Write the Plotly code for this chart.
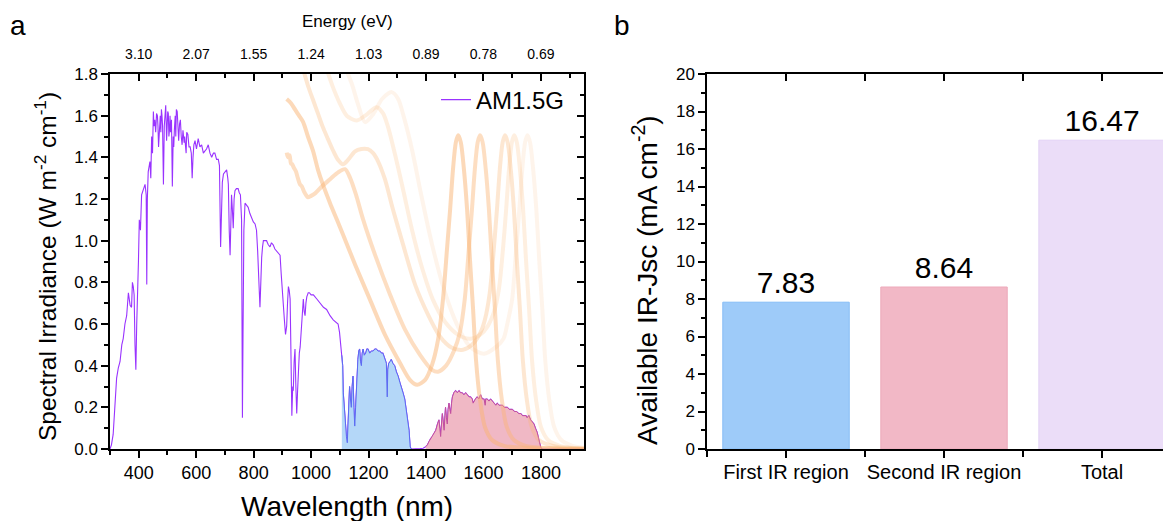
import plotly.graph_objects as go

W, H = 1171, 521
OX, OY = 8, 8          # page offset of the plot div inside the browser window
FONT = "Liberation Sans, Arial, sans-serif"


def fx(px):
    return (px - OX) / W


def fy(py):
    return 1 - (py - OY) / H


# ---------------- Panel a data ----------------
am_wl = [300, 305, 311, 317, 323, 329, 335, 341, 346, 352, 358, 364, 370, 375, 378, 381, 384, 387, 390, 393,
         396, 399, 402, 406, 410, 416, 422, 426, 428, 430, 433,
         439, 442, 445, 448, 451, 453, 456, 459, 462, 465, 467, 469, 471, 473, 475, 477, 479, 481, 483, 486,
         489, 492, 494, 497, 499, 501, 503, 505, 507, 509, 511, 514, 517, 520, 522, 524, 527, 529, 531, 534,
         536, 539, 542, 545, 548, 551, 554, 558, 560, 563, 565, 567, 571,
         575, 579, 583, 586, 589, 592, 596, 601, 607, 613, 619, 625, 630, 636, 642, 648, 654,
         660, 665, 671, 677, 681, 685, 688, 691, 695, 700, 706, 710, 712, 715, 718, 721, 723, 726, 729, 732,
         735, 740, 746, 750, 754, 758, 761, 763, 766, 770, 775, 781, 787, 793, 799, 805, 810, 814, 816, 819,
         822, 825, 828, 831, 834, 840, 845, 851, 857, 862, 868, 874, 880, 886, 892, 896, 900, 903, 907, 911,
         915, 918, 921, 924, 927, 930, 933, 936, 938, 941, 944, 947, 950, 953, 956, 959, 962, 965, 967, 970,
         973, 976, 979, 982, 985, 990, 994, 1000, 1008, 1020, 1031, 1043, 1054, 1066, 1077, 1085, 1094, 1099, 1103, 1107,
         1110, 1112, 1115, 1117, 1120, 1123, 1126, 1128, 1131, 1134, 1137, 1140, 1143, 1146, 1149, 1152, 1155, 1157, 1160, 1163,
         1166, 1169, 1172, 1175, 1178, 1181, 1185, 1190, 1194, 1198, 1204, 1210, 1216, 1222, 1227, 1233, 1239, 1245, 1250, 1256,
         1260, 1262, 1265, 1267, 1270, 1275, 1279, 1285, 1291, 1297, 1303, 1309, 1314, 1320, 1326, 1330, 1334, 1338, 1341, 1345,
         1349, 1360, 1370, 1380, 1390, 1399, 1405, 1410, 1416, 1422, 1428, 1434, 1440, 1445, 1448, 1451, 1454, 1457, 1460, 1463,
         1466, 1468, 1471, 1474, 1477, 1480, 1483, 1486, 1489, 1492, 1497, 1503, 1509, 1515, 1520, 1526, 1532, 1538, 1544, 1550,
         1555, 1561, 1564, 1567, 1572, 1578, 1584, 1590, 1596, 1602, 1606, 1608, 1613, 1619, 1625, 1631, 1637, 1643, 1648, 1654,
         1660, 1666, 1672, 1677, 1683, 1690, 1700, 1708, 1715, 1723, 1730, 1736, 1741, 1748, 1752, 1758, 1764, 1770, 1776, 1781,
         1787, 1792, 1797, 1800, 1805, 1850, 1900, 1950]
am_irr = [0.0, 0.02, 0.07, 0.20, 0.34, 0.39, 0.42, 0.50, 0.53, 0.60, 0.64, 0.75, 0.69, 0.68, 0.80, 0.78, 0.74, 0.50, 0.38, 0.60,
          0.86, 0.90, 1.10, 1.05, 1.22, 1.25, 1.27, 1.22, 0.79, 1.20, 1.33,
          1.38, 1.30, 1.50, 1.42, 1.62, 1.55, 1.58, 1.52, 1.61, 1.60, 1.55, 1.45, 1.50, 1.58, 1.60, 1.52, 1.63, 1.60, 1.55, 1.27,
          1.55, 1.60, 1.65, 1.48, 1.57, 1.62, 1.61, 1.50, 1.53, 1.60, 1.52, 1.58, 1.26, 1.50, 1.45, 1.53, 1.60, 1.50, 1.63, 1.62,
          1.55, 1.48, 1.56, 1.58, 1.50, 1.46, 1.53, 1.47, 1.50, 1.46, 1.42, 1.52, 1.51,
          1.45, 1.45, 1.42, 1.30, 1.40, 1.46, 1.48, 1.44, 1.49, 1.45, 1.46, 1.42, 1.43, 1.44, 1.46, 1.42, 1.40,
          1.42, 1.42, 1.39, 1.39, 1.36, 0.97, 1.10, 1.28, 1.32, 1.33, 1.34, 1.30, 1.27, 1.05, 0.93, 1.10, 1.22, 1.15, 1.06, 1.20,
          1.24, 1.25, 1.25, 1.23, 1.22, 1.10, 0.15, 0.55, 1.05, 1.18, 1.17, 1.16, 1.13, 1.11, 1.09, 1.08, 1.05, 0.95, 0.90, 0.78,
          0.68, 0.85, 0.92, 0.97, 1.00, 1.00, 1.00, 0.98, 0.97, 0.99, 0.98, 0.96, 0.95, 0.94, 0.93, 0.84, 0.74, 0.72, 0.62, 0.55,
          0.59, 0.70, 0.78, 0.76, 0.72, 0.45, 0.16, 0.30, 0.28, 0.42, 0.48, 0.30, 0.17, 0.28, 0.40, 0.46, 0.49, 0.55, 0.57, 0.66,
          0.72, 0.66, 0.64, 0.70, 0.73, 0.75, 0.75, 0.74, 0.74, 0.72, 0.70, 0.68, 0.67, 0.64, 0.62, 0.61, 0.60, 0.56, 0.51, 0.45,
          0.40, 0.27, 0.20, 0.16, 0.09, 0.06, 0.03, 0.12, 0.20, 0.30, 0.24, 0.20, 0.30, 0.35, 0.20, 0.11, 0.20, 0.28, 0.38, 0.43,
          0.47, 0.48, 0.42, 0.40, 0.46, 0.48, 0.45, 0.46, 0.48, 0.48, 0.46, 0.47, 0.47, 0.48, 0.48, 0.47, 0.47, 0.46, 0.46, 0.44,
          0.42, 0.41, 0.25, 0.38, 0.41, 0.42, 0.43, 0.41, 0.40, 0.37, 0.35, 0.32, 0.30, 0.27, 0.24, 0.19, 0.16, 0.12, 0.09, 0.01,
          0.0, 0.0, 0.0, 0.002, 0.004, 0.011, 0.02, 0.035, 0.05, 0.06, 0.075, 0.09, 0.12, 0.14, 0.10, 0.06, 0.12, 0.17, 0.13, 0.09,
          0.16, 0.20, 0.15, 0.12, 0.19, 0.22, 0.19, 0.17, 0.22, 0.25, 0.27, 0.28, 0.27, 0.28, 0.27, 0.27, 0.26, 0.27, 0.26, 0.25,
          0.25, 0.24, 0.22, 0.23, 0.24, 0.25, 0.24, 0.26, 0.24, 0.24, 0.21, 0.24, 0.24, 0.23, 0.24, 0.23, 0.22, 0.21, 0.22, 0.21,
          0.21, 0.21, 0.20, 0.20, 0.20, 0.19, 0.19, 0.18, 0.18, 0.17, 0.17, 0.16, 0.16, 0.16, 0.15, 0.16, 0.14, 0.13, 0.12, 0.10,
          0.08, 0.05, 0.02, 0.005, 0.0, 0.0, 0.0, 0.0]

region1 = (1107, 1349)   # first IR region (nm)
region2 = (1399, 1805)   # second IR region (nm)

# Orange absorption / peak curves
curve1_wl = [915, 930, 944, 958, 972, 989, 1007, 1024, 1041, 1066, 1090, 1111, 1153, 1205, 1257, 1309, 1344, 1369,
             1397, 1421, 1442, 1459, 1473, 1484, 1494, 1504, 1512, 1521, 1532, 1543, 1553, 1564, 1574, 1588, 1605,
             1630, 1675, 1762, 1950]
curve1_val = [1.68, 1.66, 1.63, 1.60, 1.57, 1.50, 1.43, 1.34, 1.27, 1.18, 1.10, 1.03, 0.886, 0.717, 0.549, 0.414,
              0.332, 0.308, 0.332, 0.404, 0.525, 0.717, 0.958, 1.15, 1.343, 1.473, 1.506, 1.473, 1.343, 1.15, 0.91,
              0.669, 0.428, 0.236, 0.106, 0.043, 0.014, 0.005, 0.0]
curve2_wl = [915, 920, 925, 930, 934, 940, 947, 954, 961, 968, 975, 982, 989, 1000, 1014, 1038, 1066, 1094, 1118,
             1135, 1156, 1181, 1222, 1275, 1327, 1379, 1421, 1442, 1470, 1497, 1518, 1535, 1549, 1560, 1570, 1580,
             1588, 1597, 1608, 1619, 1629, 1640, 1650, 1664, 1681, 1706, 1750, 1850, 1950]
curve2_val = [1.423, 1.40, 1.41, 1.37, 1.367, 1.35, 1.333, 1.30, 1.271, 1.26, 1.237, 1.22, 1.208, 1.215, 1.227,
              1.261, 1.295, 1.328, 1.343, 1.304, 1.222, 1.102, 0.934, 0.741, 0.573, 0.452, 0.380, 0.371, 0.40,
              0.47, 0.56, 0.72, 0.958, 1.15, 1.343, 1.473, 1.506, 1.473, 1.343, 1.15, 0.91, 0.669, 0.428, 0.236,
              0.106, 0.043, 0.014, 0.004, 0.0]
curve3_wl = [972, 990, 1007, 1024, 1041, 1058, 1076, 1093, 1111, 1130, 1153, 1175, 1198, 1216, 1233, 1257, 1285,
             1320, 1362, 1407, 1449, 1490, 1529, 1560, 1590, 1605, 1622, 1636, 1647, 1657, 1667, 1675, 1684, 1695,
             1706, 1716, 1727, 1737, 1751, 1768, 1793, 1850, 1950]
curve3_val = [1.824, 1.74, 1.675, 1.61, 1.545, 1.49, 1.434, 1.39, 1.367, 1.39, 1.429, 1.44, 1.439, 1.42, 1.381,
              1.295, 1.15, 0.982, 0.789, 0.645, 0.539, 0.486, 0.476, 0.50, 0.56, 0.62, 0.75, 0.96, 1.15, 1.343,
              1.473, 1.506, 1.473, 1.343, 1.15, 0.91, 0.669, 0.428, 0.236, 0.106, 0.043, 0.012, 0.003]
curve4_wl = [1052, 1076, 1101, 1125, 1159, 1191, 1228, 1250, 1268, 1292, 1320, 1351, 1386, 1424, 1466, 1511, 1553,
             1590, 1615, 1637, 1654, 1668, 1679, 1689, 1699, 1707, 1716, 1727, 1738, 1748, 1759, 1769, 1783, 1800,
             1825, 1866, 1908, 1950]
curve4_val = [1.834, 1.737, 1.656, 1.598, 1.577, 1.603, 1.641, 1.612, 1.545, 1.415, 1.247, 1.054, 0.871, 0.717,
              0.611, 0.549, 0.529, 0.55, 0.59, 0.66, 0.77, 0.96, 1.15, 1.343, 1.473, 1.506, 1.473, 1.343, 1.15,
              0.91, 0.669, 0.428, 0.236, 0.106, 0.043, 0.015, 0.006, 0.003]
curve5_wl = [1118, 1142, 1163, 1188, 1216, 1247, 1281, 1303, 1323, 1351, 1383, 1421, 1463, 1508, 1553, 1602, 1644,
             1670, 1683, 1700, 1714, 1725, 1735, 1745, 1753, 1762, 1773, 1784, 1794, 1805, 1815, 1829, 1846, 1871,
             1910, 1950]
curve5_val = [1.834, 1.752, 1.656, 1.569, 1.607, 1.68, 1.713, 1.68, 1.593, 1.439, 1.222, 0.982, 0.765, 0.597, 0.491,
              0.457, 0.49, 0.53, 0.60, 0.72, 0.96, 1.15, 1.343, 1.473, 1.506, 1.473, 1.343, 1.15, 0.91, 0.669, 0.428,
              0.236, 0.106, 0.043, 0.015, 0.006]
curve_alpha = [0.5, 0.44, 0.32, 0.22, 0.14]

wl_ticks = [400, 600, 800, 1000, 1200, 1400, 1600, 1800]
energy_labels = ["3.10", "2.07", "1.55", "1.24", "1.03", "0.89", "0.78", "0.69"]
wl_minor = [300, 500, 700, 900, 1100, 1300, 1500, 1700, 1900]

# ---------------- Panel b data ----------------
bar_categories = ["First IR region", "Second IR region", "Total"]
bar_values = [7.83, 8.64, 16.47]
bar_colors = ["#9ECBF9", "#F2B8C6", "#EBDDF8"]
bar_edge = ["#86BDF6", "#EDA9BA", "#E3D2F5"]

# ---------------- Figure ----------------
fig = go.Figure()

fig.add_trace(go.Scatter(x=am_wl, y=am_irr, mode="lines", name="AM1.5G",
                         line=dict(color="#9933FF", width=1.1), xaxis="x", yaxis="y"))

r1 = [(w, v) for w, v in zip(am_wl, am_irr) if region1[0] <= w <= region1[1]]
r2 = [(w, v) for w, v in zip(am_wl, am_irr) if region2[0] <= w <= region2[1]]
fig.add_trace(go.Scatter(x=[p[0] for p in r1], y=[p[1] for p in r1], mode="lines", fill="tozeroy",
                         fillcolor="#B4D7F8", line=dict(color="#5B6CF2", width=1), showlegend=False,
                         xaxis="x", yaxis="y"))
fig.add_trace(go.Scatter(x=[p[0] for p in r2], y=[p[1] for p in r2], mode="lines", fill="tozeroy",
                         fillcolor="#F0B8C5", line=dict(color="#C4509C", width=1), showlegend=False,
                         xaxis="x", yaxis="y"))

curves = [(curve1_wl, curve1_val), (curve2_wl, curve2_val), (curve3_wl, curve3_val),
          (curve4_wl, curve4_val), (curve5_wl, curve5_val)]
for (cw, cv), a in zip(curves, curve_alpha):
    fig.add_trace(go.Scatter(x=cw, y=cv, mode="lines", line=dict(color=f"rgba(250,180,115,{a})", width=4,
                                                                 shape="spline", smoothing=0.8),
                             showlegend=False, xaxis="x", yaxis="y"))

# empty traces so the overlay axes are drawn
fig.add_trace(go.Scatter(x=[], y=[], xaxis="x2", yaxis="y", showlegend=False, hoverinfo="skip"))
fig.add_trace(go.Scatter(x=[], y=[], xaxis="x", yaxis="y3", showlegend=False, hoverinfo="skip"))

fig.add_trace(go.Bar(x=bar_categories, y=bar_values, width=0.8,
                     marker=dict(color=bar_colors, line=dict(color=bar_edge, width=1)),
                     text=[f"{v:.2f}" for v in bar_values], textposition="outside",
                     textfont=dict(size=30, color="black", family=FONT), cliponaxis=False,
                     showlegend=False, xaxis="x3", yaxis="y2"))
fig.add_trace(go.Scatter(x=[], y=[], xaxis="x4", yaxis="y2", showlegend=False, hoverinfo="skip"))
fig.add_trace(go.Scatter(x=[], y=[], xaxis="x5", yaxis="y2", showlegend=False, hoverinfo="skip"))

ax = dict(showline=True, linecolor="black", linewidth=1.5, tickcolor="black", tickwidth=1.5,
          showgrid=False, zeroline=False, ticklen=7, automargin=False)
ydom = [fy(449), fy(74)]
dom_a = [fx(110), fx(584)]
dom_b = [fx(707), 1.0]
brange = [-0.5, 2.487]

fig.update_layout(
    width=W, height=H, autosize=False,
    margin=dict(l=0, r=0, t=0, b=0, autoexpand=False),
    paper_bgcolor="white", plot_bgcolor="white",
    font=dict(family=FONT, color="black"),
    xaxis=dict(ax, domain=dom_a, range=[300, 1950], anchor="y", tickmode="linear", tick0=400, dtick=200,
               ticks="outside", tickfont=dict(size=18),
               minor=dict(ticks="outside", ticklen=4, tickmode="array", tickvals=wl_minor, tickcolor="black")),
    xaxis2=dict(ax, overlaying="x", side="top", anchor="y", range=[300, 1950], tickmode="array",
                tickvals=wl_ticks, ticktext=energy_labels, ticks="inside", tickfont=dict(size=14),
                ticklabelstandoff=8,
                minor=dict(ticks="inside", ticklen=4, tickmode="array", tickvals=wl_minor, tickcolor="black")),
    yaxis=dict(ax, domain=ydom, range=[0, 1.8], anchor="x", tickmode="linear", tick0=0, dtick=0.2,
               tickformat=".1f", ticks="outside", tickfont=dict(size=17),
               minor=dict(ticks="outside", ticklen=4, dtick=0.1, tickcolor="black")),
    yaxis3=dict(ax, overlaying="y", side="right", anchor="x", range=[0, 1.8], tickmode="linear", tick0=0,
                dtick=0.2, ticks="inside", showticklabels=False,
                minor=dict(ticks="inside", ticklen=4, dtick=0.1, tickcolor="black")),
    xaxis3=dict(ax, domain=dom_b, anchor="y2", type="category", range=brange, ticks="outside",
                tickfont=dict(size=20), categoryorder="array", categoryarray=bar_categories,
                ticklabelstandoff=-3),
    xaxis4=dict(ax, overlaying="x3", side="bottom", anchor="y2", type="linear", range=brange,
                tickmode="array", tickvals=[-0.5, 0.5, 1.5, 2.5], ticks="outside", showticklabels=False,
                showline=False),
    xaxis5=dict(ax, overlaying="x3", side="top", anchor="y2", type="linear", range=brange,
                tickmode="array", tickvals=[-0.5, 0, 0.5, 1, 1.5, 2, 2.5], ticks="inside",
                showticklabels=False),
    yaxis2=dict(ax, domain=ydom, range=[0, 20], anchor="x3", tickmode="linear", tick0=0, dtick=2,
                ticks="outside", tickfont=dict(size=17),
                minor=dict(ticks="outside", ticklen=4, dtick=1, tickcolor="black")),
    legend=dict(x=fx(436), y=fy(100), xanchor="left", yanchor="middle", bgcolor="rgba(0,0,0,0)",
                font=dict(size=24)),
    bargap=0.2,
)

ann = [
    dict(text="a", x=fx(18), y=fy(26), font=dict(size=28)),
    dict(text="b", x=fx(622), y=fy(26), font=dict(size=28)),
    dict(text="Energy (eV)", x=fx(347), y=fy(21), font=dict(size=17)),
    dict(text="Wavelength (nm)", x=fx(347), y=fy(506), font=dict(size=28)),
    dict(text="Spectral Irradiance (W m<sup>-2</sup> cm<sup>-1</sup>)", x=fx(45), y=fy(267),
         textangle=-90, font=dict(size=24.5)),
    dict(text="Available IR-Jsc (mA cm<sup>-2</sup>)", x=fx(645), y=fy(280), textangle=-90,
         font=dict(size=28)),
]
for a in ann:
    fig.add_annotation(xref="paper", yref="paper", showarrow=False, xanchor="center", yanchor="middle",
                       font_family=FONT, font_color="black", **{k: v for k, v in a.items()})

fig.write_html("out.html")
